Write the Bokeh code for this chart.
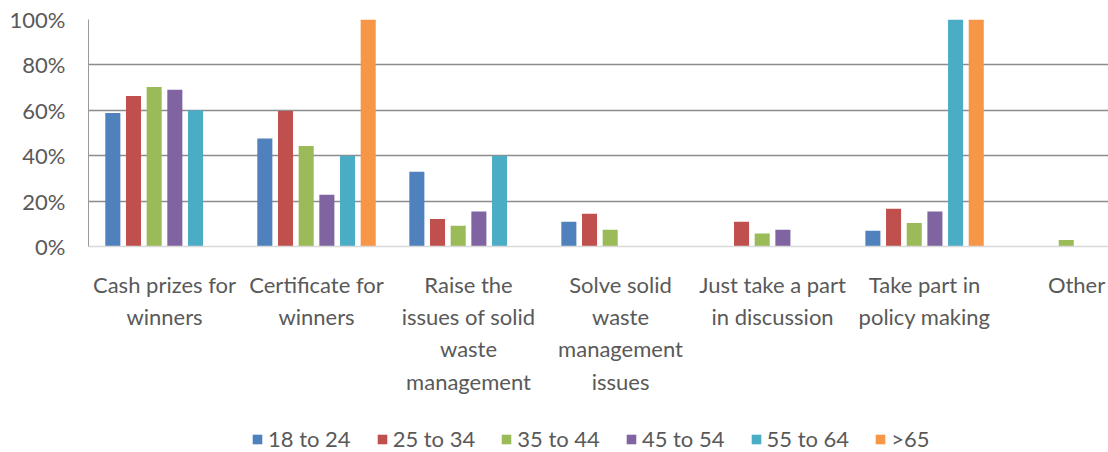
from bokeh.plotting import figure
from bokeh.layouts import column
from bokeh.models import (ColumnDataSource, Range1d, FixedTicker, Legend, LegendItem,
                          CustomJSTickFormatter)
from bokeh.transform import dodge
from bokeh.embed import file_html
from bokeh.resources import INLINE

# Survey: preferred incentives / participation modes by age group (% of respondents)
categories = [
    "Cash prizes for\nwinners",
    "Certificate for\nwinners",
    "Raise the\nissues of solid\nwaste\nmanagement",
    "Solve solid\nwaste\nmanagement\nissues",
    "Just take a part\nin discussion",
    "Take part in\npolicy making",
    "Other",
]
age_groups = ["18 to 24", "25 to 34", "35 to 44", "45 to 54", "55 to 64", ">65"]

age_18_24 = [58.8, 47.6, 32.9, 10.9, 0.0, 6.9, 0.0]
age_25_34 = [66.3, 59.7, 12.1, 14.4, 10.9, 16.6, 0.0]
age_35_44 = [70.3, 44.3, 9.1, 7.4, 5.7, 10.4, 2.9]
age_45_54 = [69.1, 22.8, 15.4, 0.0, 7.4, 15.4, 0.0]
age_55_64 = [60.0, 40.0, 40.0, 0.0, 0.0, 100.0, 0.0]
age_65_up = [0.0, 100.0, 0.0, 0.0, 0.0, 100.0, 0.0]

y_ticks = [0, 20, 40, 60, 80, 100]

colors = ["#4F81BD", "#C0504D", "#9BBB59", "#8064A2", "#4BACC6", "#F79646"]
FONT = "Lato"
TEXT_COLOR = "#595959"

series = [age_18_24, age_25_34, age_35_44, age_45_54, age_55_64, age_65_up]
idx = list(range(len(categories)))
data = {"x": idx}
for k, s in enumerate(series):
    data[f"s{k}"] = s
source = ColumnDataSource(data)

p = figure(width=1108, height=425, output_backend="svg", toolbar_location=None,
           x_range=Range1d(-0.5, 6.21), y_range=Range1d(0, 100),
           min_border_left=88, min_border_right=0, min_border_top=19,
           min_border_bottom=179)
p.outline_line_color = None
p.background_fill_color = "white"

pitch = 0.136
bar_w = 0.099
for k in range(len(series)):
    off = (k - 2.5) * pitch
    p.vbar(x=dodge("x", off), top=f"s{k}", width=bar_w, source=source,
           fill_color=colors[k], line_color=None)

# y axis
p.yaxis.ticker = FixedTicker(ticks=y_ticks)
p.yaxis.formatter = CustomJSTickFormatter(code="return tick.toFixed(0) + '%';")
p.yaxis.major_tick_line_color = None
p.yaxis.major_tick_out = 0
p.yaxis.major_tick_in = 0
p.yaxis.minor_tick_line_color = None
p.yaxis.axis_line_color = "#9a9a9a"
p.yaxis.axis_line_width = 1
p.yaxis.major_label_standoff = 23
p.yaxis.major_label_text_font = FONT
p.yaxis.major_label_text_font_size = "22px"
p.yaxis.major_label_text_color = TEXT_COLOR

p.ygrid.ticker = FixedTicker(ticks=y_ticks[1:])
p.ygrid.grid_line_color = "#8c8c8c"
p.ygrid.grid_line_width = 1.5
p.xgrid.grid_line_color = None

# x axis with wrapped category names
p.xaxis.ticker = FixedTicker(ticks=idx)
p.xaxis.major_label_overrides = {i: c for i, c in zip(idx, categories)}
p.xaxis.major_tick_line_color = None
p.xaxis.major_tick_out = 0
p.xaxis.major_tick_in = 0
p.xaxis.minor_tick_line_color = None
p.xaxis.axis_line_color = "#d9d9d9"
p.xaxis.axis_line_width = 1.5
p.xaxis.major_label_standoff = 24
p.xaxis.major_label_text_font = FONT
p.xaxis.major_label_text_font_size = "22px"
p.xaxis.major_label_text_color = TEXT_COLOR
p.xaxis.major_label_text_line_height = 1.2

# legend strip underneath the chart; swatch renderers hold a single
# undefined (NaN) box so only their legend entries are drawn
lg = figure(width=1108, height=27, output_backend="svg", toolbar_location=None,
            x_range=Range1d(0, 1), y_range=Range1d(0, 1),
            min_border=0, x_axis_type=None, y_axis_type=None)
lg.outline_line_color = None
lg.grid.visible = False
nan = float("nan")
swatch_src = ColumnDataSource({"l": [nan], "r": [nan], "b": [nan], "t": [nan]})
swatches = [lg.quad(left="l", right="r", bottom="b", top="t", fill_color=c,
                    line_color=None, source=swatch_src) for c in colors]
legend = Legend(
    items=[LegendItem(label=g, renderers=[r]) for g, r in zip(age_groups, swatches)],
    orientation="horizontal", location=(163, 0),
    glyph_width=12, glyph_height=12, label_standoff=5, spacing=25,
    padding=0, margin=0, border_line_color=None, background_fill_alpha=0,
    label_text_font=FONT, label_text_font_size="22px", label_text_color=TEXT_COLOR,
)
lg.add_layout(legend, "center")

open("out.html", "w").write(file_html(column(p, lg, spacing=0), INLINE))
